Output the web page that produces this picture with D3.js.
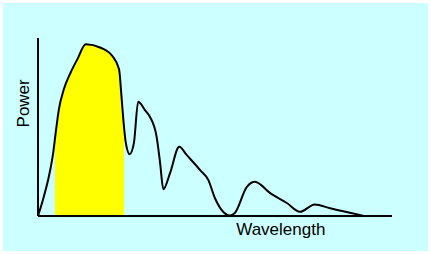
<!DOCTYPE html>
<html>
<head>
<meta charset="utf-8">
<script src="https://cdn.jsdelivr.net/npm/d3@7"></script>
<style>
  html, body { margin: 0; padding: 0; background: #fff; }
  svg { display: block; }
  text { font-family: "Liberation Sans", Arial, sans-serif; fill: #000; }
</style>
</head>
<body>
<div id="chart"></div>
<script>
// wavelength (arbitrary units) and power (arbitrary units)
const wavelength = [0, 1.7, 3.1, 4.3, 5.0, 5.9, 7.3, 9.2, 11.1, 13.5, 17.7, 21.0, 22.9, 23.5, 24.1, 24.8, 25.9, 27.1, 28.3, 30.2, 31.6, 33.5, 34.5, 35.4, 37.3, 39.9, 42.0, 45.8, 48.1, 50.0, 54.2, 55.6, 59.0, 61.3, 65.5, 70.3, 74.0, 78.2, 82.5, 88.1, 91.8];
const power = [0, 11.4, 22.7, 36.0, 47.3, 60.6, 72.0, 81.4, 89.0, 97.6, 95.6, 90.9, 83.4, 70.1, 54.9, 41.6, 35.1, 41.6, 64.9, 60.2, 56.4, 45.1, 30.1, 15.2, 24.4, 39.4, 34.7, 26.1, 20.5, 10.1, 0.3, 1.7, 16.6, 19.5, 13.1, 7.4, 2.4, 6.6, 4.4, 1.9, 0.2];
// highlighted (visible) band
const band = [4.8, 24.3];
const xLabel = 'Wavelength';
const yLabel = 'Power';

const W = 431, H = 254;
const margin = { top: 40, right: 39, bottom: 38, left: 38 };
const width = W - margin.left - margin.right;
const height = H - margin.top - margin.bottom;

const data = wavelength.map((w, i) => ({ x: w, y: power[i] }));

const svg = d3.select('#chart')
    .append('svg')
    .attr('width', W)
    .attr('height', H);

svg.append('rect')
    .attr('x', 3).attr('y', 3)
    .attr('width', W - 6).attr('height', H - 6)
    .attr('fill', '#ccffff');

const g = svg.append('g')
    .attr('transform', `translate(${margin.left},${margin.top})`);

const x = d3.scaleLinear().domain([0, 100]).range([0, width]);
const y = d3.scaleLinear().domain([0, 100]).range([height, 0]);

g.append('clipPath')
    .attr('id', 'bandClip')
    .append('rect')
    .attr('x', x(band[0]))
    .attr('y', 0)
    .attr('width', x(band[1]) - x(band[0]))
    .attr('height', height);

const area = d3.area()
    .x(d => x(d.x))
    .y0(y(0))
    .y1(d => y(d.y))
    .curve(d3.curveMonotoneX);

const line = d3.line()
    .x(d => x(d.x))
    .y(d => y(d.y))
    .curve(d3.curveMonotoneX);

g.append('path')
    .datum(data)
    .attr('d', area)
    .attr('fill', '#ffff00')
    .attr('clip-path', 'url(#bandClip)');

g.append('path')
    .datum(data)
    .attr('d', line)
    .attr('fill', 'none')
    .attr('stroke', '#000')
    .attr('stroke-width', 2)
    .attr('stroke-linejoin', 'round');

// axes without ticks
g.append('line')
    .attr('x1', 0).attr('x2', 0)
    .attr('y1', -2).attr('y2', height)
    .attr('stroke', '#000').attr('stroke-width', 2);

g.append('line')
    .attr('x1', 0).attr('x2', width)
    .attr('y1', height).attr('y2', height)
    .attr('stroke', '#000').attr('stroke-width', 2);

g.append('text')
    .attr('x', x(56))
    .attr('y', height + 19)
    .style('font-size', '17px')
    .text(xLabel);

g.append('text')
    .attr('transform', `translate(-9,${y(64)}) rotate(-90)`)
    .attr('text-anchor', 'middle')
    .style('font-size', '17px')
    .text(yLabel);
</script>
</body>
</html>
